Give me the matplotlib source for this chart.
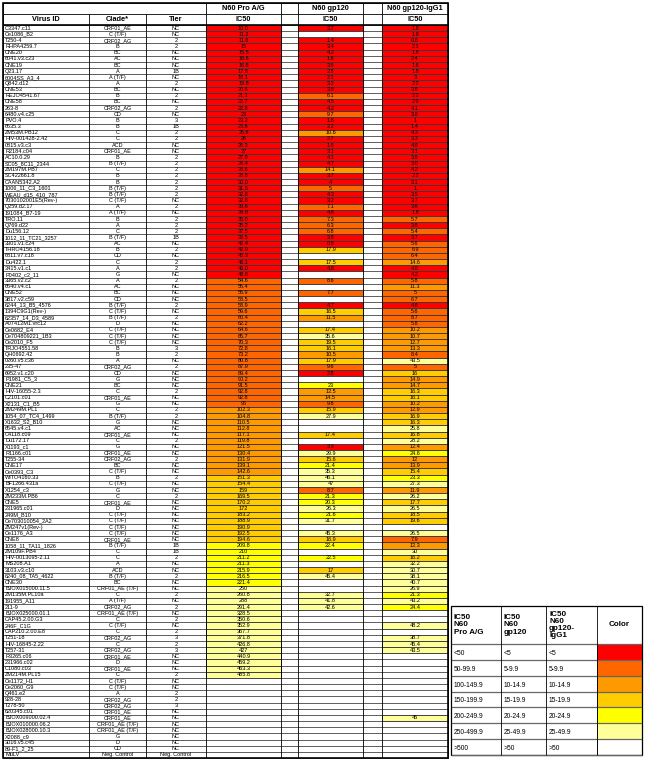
import matplotlib
matplotlib.use("Agg")
import matplotlib.pyplot as plt
from matplotlib.patches import Rectangle
import numpy as np

plt.rcParams["font.family"] = ["Liberation Sans", "DejaVu Sans"]

virus_ids = [
    "C3347.c11", "Ce1086_B2", "T250-4", "RHPA4259.7", "CNE20", "6041.v3.c23", "CNE19", "Q23.17", "6004SS_A3_4", "Q842.d12",
    "CNE53", "REJO4541.67", "CNE58", "263-8", "6480.v4.c25", "PVO.4", "6535.3", "ZM53M.PB12", "HIV-001428-2.42", "0815.v3.c3",
    "R2184.c04", "AC10.0.29", "SC05_8C11_2344", "ZM197M.PB7", "SC422661.8", "CAAN5342.A2", "1006_11_C3_1601", "WEAU_d15_410_787", "7030102001E5(Rev-)", "Q259.d2.17",
    "191084_B7-19", "TRO.11", "Q769.d22", "Du156.12", "1012_11_TC21_3257", "3301.v1.c24", "THRO4156.18", "6811.v7.c18", "Du422.1", "3415.v1.c1",
    "P0402_c2_11", "3365.v2.c2", "6540.v4.c1", "CNE52", "3817.v2.c59", "6244_13_B5_4576", "1394C9G1(Rev-)", "62357_14_D3_4589", "A07412M1.vrc12", "Ce0682_E4",
    "Ce704809221_1B3", "Ce2010_F5", "TRJO4551.58", "QH0692.42", "0260.v5.c36", "235-47", "6952.v1.c20", "P1981_C5_3", "CNE21", "HIV-16055-2.3",
    "C2101.c01", "X2131_C1_B5", "ZM249M.PL1", "1054_07_TC4_1499", "X1632_S2_B10", "6545.v4.c1", "C4118.c09", "Du172.17", "X1193_c1", "R1166.c01",
    "T255-34", "CNE17", "Ce0393_C3", "WITO4160.33", "BF1266.431a", "X1254_c3", "ZM233M.PB6", "CNE5", "231965.c01", "249M_B10",
    "Ce703010054_2A2", "ZM247v1(Rev-)", "Ce1176_A3", "CNE8", "1058_11_TA11_1826", "ZM109F.PB4", "HIV-0013095-2.11", "MS208.A1", "3103.v3.c10", "6240_08_TA5_4622",
    "CNE30", "BJOX015000.11.5", "ZM135M.PL10a", "191955_A11", "211-9", "BJOX025000.01.1", "CAP45.2.00.G3", "246F_C1G", "CAP210.2.00.E8", "T251-18",
    "HIV-16845-2.22", "T257-31", "R3265.c06", "231966.c02", "C1080.c03", "ZM214M.PL15", "Ce1172_H1", "Ce2060_G9", "Q461.e2", "928-28",
    "T278-50", "620345.c01", "BJOX009000.02.4", "BJOX010000.06.2", "BJOX028000.10.3", "X2088_c9", "3016.v5.c45", "89-F1_2_25", "MuLV",
]

clades = [
    "CRF01_AE", "C (T/F)", "CRF02_AG", "B", "BC", "AC", "BC", "A", "A (T/F)", "A",
    "BC", "B", "BC", "CRF02_AG", "CD", "B", "B", "C", "C", "ACD",
    "CRF01_AE", "B", "B (T/F)", "C", "B", "B", "B (T/F)", "B (T/F)", "C (T/F)", "A",
    "A (T/F)", "B", "A", "C", "B (T/F)", "AC", "B", "CD", "C", "A",
    "G", "A", "AC", "BC", "CD", "B (T/F)", "C (T/F)", "B (T/F)", "D", "C (T/F)",
    "C (T/F)", "C (T/F)", "B", "B", "A", "CRF02_AG", "CD", "G", "BC", "C",
    "CRF01_AE", "G", "C", "B (T/F)", "G", "AC", "CRF01_AE", "C", "G", "CRF01_AE",
    "CRF02_AG", "BC", "C (T/F)", "B", "C (T/F)", "G", "C", "CRF01_AE", "D", "C (T/F)",
    "C (T/F)", "C (T/F)", "C (T/F)", "CRF01_AE", "B (T/F)", "C", "C", "A", "ACD", "B (T/F)",
    "BC", "CRF01_AE (T/F)", "C", "A (T/F)", "CRF02_AG", "CRF01_AE (T/F)", "C", "C (T/F)", "C", "CRF02_AG",
    "C", "CRF02_AG", "CRF01_AE", "D", "CRF01_AE", "C", "C (T/F)", "C (T/F)", "A", "CRF02_AG",
    "CRF02_AG", "CRF01_AE", "CRF01_AE", "CRF01_AE (T/F)", "CRF01_AE (T/F)", "G", "D", "CD", "Neg. Control",
]

tiers = [
    "NC", "NC", "2", "2", "NC", "NC", "NC", "1B", "NC", "2",
    "NC", "2", "NC", "2", "NC", "3", "1B", "2", "2", "NC",
    "NC", "2", "2", "2", "2", "2", "2", "2", "NC", "2",
    "NC", "2", "2", "2", "1B", "NC", "2", "NC", "2", "2",
    "NC", "2", "NC", "NC", "NC", "2", "NC", "2", "NC", "NC",
    "NC", "NC", "3", "2", "NC", "2", "NC", "NC", "NC", "2",
    "NC", "NC", "2", "2", "NC", "NC", "NC", "2", "NC", "NC",
    "2", "NC", "NC", "2", "NC", "NC", "2", "NC", "NC", "NC",
    "NC", "NC", "NC", "NC", "1B", "1B", "2", "NC", "NC", "2",
    "NC", "NC", "2", "NC", "2", "NC", "2", "NC", "2", "3",
    "2", "3", "NC", "NC", "NC", "2", "NC", "NC", "2", "2",
    "3", "NC", "NC", "NC", "NC", "NC", "NC", "NC", "Neg. Control",
]

# IC50 values as printed in the table ("" = empty cell)
proag_ic50 = [
    "10.0", "11.2", "11.6", "15", "15.5", "16.6", "16.6", "17.8", "18.1", "19.8",
    "20.6", "21.1", "22.7", "22.8", "23", "23.2", "23.6", "25.6", "26", "26.3",
    "27", "27.9", "28.4", "28.6", "28.8", "30.0", "31.5", "32.8", "32.8", "33.6",
    "34.8", "35.0", "35.2", "37.5", "39.5", "42.4", "42.9", "45.3", "46.1", "46.0",
    "48.8", "54.6", "55.4", "56.9", "58.5", "58.9", "59.6", "60.4", "62.2", "64.6",
    "65.7", "70.3", "72.8", "73.2", "80.8", "87.9", "89.4", "90.2", "91.5", "92.8",
    "92.8", "95", "102.3", "104.8", "110.5", "112.8", "117.1", "119.8", "121.5", "130.4",
    "131.9", "139.1", "142.6", "151.3", "154.4", "159", "169.5", "170.2", "172", "183.2",
    "188.9", "190.9", "192.5", "194.6", "209.8", "210", "211.2", "211.3", "215.9", "216.5",
    "221.4", "250", "260.8", "288", "291.4", "328.5", "350.6", "352.9", "367.7", "371.8",
    "426.8", "427", "440.9", "459.2", "463.3", "485.8", "", "", "", "",
    "", "", "", "", "", "", "", "", "",
]

gp120_ic50 = [
    "3.7", "", "1.4", "3.4", "4.2", "1.6", "3.6", "2.8", "2.1", "3.2",
    "3.8", "6.1", "4.5", "4.2", "9.7", "1.8", "2.2", "10.6", "2.7", "1.6",
    "3.1", "4.1", "4.7", "14.1", "3.7", "4", "5", "4.3", "3.2", "7.1",
    "4.8", "7.3", "6.3", "6.8", "3.8", "0.8", "17.9", "", "17.5", "4.8",
    "", "8.6", "", "7.7", "", "4.7", "16.5", "11.5", "", "17.4",
    "35.6", "19.5", "16.1", "10.5", "17.9", "9.6", "2.8", "", "23", "12.5",
    "14.5", "9.8", "15.9", "27.9", "", "", "17.4", "", "3.3", "29.9",
    "15.6", "21.4", "35.3", "46.1", "47", "8.7", "21.3", "20.3", "26.3", "21.6",
    "31.7", "", "45.3", "16.9", "22.4", "", "22.5", "", "17", "45.4",
    "", "", "32.7", "41.8", "42.6", "", "", "", "", "",
    "", "", "", "", "", "", "", "", "", "",
    "", "", "", "", "", "", "", "", "",
]

igg1_ic50 = [
    "1.8", "1.8", "0.8", "2.1", "1.6", "2.4", "1.6", "1.8", "3", "2.2",
    "3.6", "2.2", "2.9", "4.1", "3.8", "1", "1.4", "4.3", "3.3", "4.6",
    "3.1", "3.6", "3.0", "4.2", "2.2", "3.1", "1", "3.5", "3.7", "3.6",
    "1.8", "5.7", "3.6", "5.4", "3.7", "5.6", "6.9", "6.4", "14.6", "4.8",
    "4.2", "5.8", "11.3", "5", "6.7", "4.6", "5.6", "8.7", "5.8", "10.2",
    "10.7", "12.7", "13.3", "8.4", "43.5", "5", "16", "14.9", "14.7", "16.3",
    "16.1", "10.2", "12.9", "16.9", "16.3", "25.8", "16.8", "28.2", "12.4", "24.6",
    "12", "13.9", "15.4", "23.3", "27.3", "11.9", "26.2", "17.7", "26.5", "18.5",
    "19.6", "", "26.5", "7.9", "12.3", "30", "16.2", "32.2", "30.7", "38.1",
    "40.7", "26.9", "21.3", "43.2", "24.4", "", "", "48.2", "", "38.7",
    "45.4", "43.5", "", "", "", "", "", "", "", "",
    "", "", "45", "", "", "", "", "", "",
]

proag_bins = [50, 100, 150, 200, 250, 500]
gp120_bins = [5, 10, 15, 20, 25, 50]
bin_colors = ["#FF0000", "#FF6600", "#FF9900", "#FFCC00", "#FFFF00", "#FFFF99", "#FFFFFF"]

legend_proag = ["<50", "50-99.9", "100-149.9", "150-199.9", "200-249.9", "250-499.9", ">500"]
legend_gp120 = ["<5", "5-9.9", "10-14.9", "15-19.9", "20-24.9", "25-49.9", ">50"]
legend_igg1 = ["<5", "5-9.9", "10-14.9", "15-19.9", "20-24.9", "25-49.9", ">50"]

W, H = 645, 761
fig = plt.figure(figsize=(W / 100, H / 100), dpi=100)
ax = fig.add_axes([0, 0, 1, 1])
ax.set_xlim(0, W)
ax.set_ylim(H, 0)
ax.axis("off")

# table layout (pixels)
col_edges = [3, 89, 146, 206, 281, 298, 363, 382, 448]
top, head_mid, head_bot, bottom = 3, 14, 25, 758
n = len(virus_ids)
row_h = (bottom - head_bot) / n
line_c = "#444444"

data_fs = 4.0
head_fs = 5.3

for i in range(n):
    y = head_bot + i * row_h
    yc = y + row_h / 2
    ax.text(col_edges[0] + 2, yc, virus_ids[i], fontsize=data_fs, ha="left", va="center")
    ax.text((col_edges[1] + col_edges[2]) / 2, yc, clades[i], fontsize=data_fs, ha="center", va="center")
    ax.text((col_edges[2] + col_edges[3]) / 2, yc, tiers[i], fontsize=data_fs, ha="center", va="center")
    for ci, values, bins in [(3, proag_ic50, proag_bins), (5, gp120_ic50, gp120_bins), (7, igg1_ic50, gp120_bins)]:
        v = values[i]
        if not v:
            continue
        x0, x1 = col_edges[ci], col_edges[ci + 1]
        color = bin_colors[int(np.digitize(float(v), bins))]
        ax.add_patch(Rectangle((x0, y), x1 - x0, row_h, facecolor=color, edgecolor="black", lw=0.5, zorder=1))
        ax.text((x0 + x1) / 2, yc, v, fontsize=data_fs, ha="center", va="center", zorder=3)

# grid lines
for i in range(n + 1):
    ax.hlines(head_bot + i * row_h, col_edges[0], col_edges[-1], color=line_c, lw=0.6, zorder=2)
ax.vlines(col_edges, head_mid, bottom, color="black", lw=0.6, zorder=2)
ax.vlines([col_edges[0]] + col_edges[3:], top, head_mid, color="black", lw=0.6, zorder=2)
ax.hlines([top, head_mid], col_edges[0], col_edges[-1], color="black", lw=0.6)
ax.hlines(head_bot, col_edges[0], col_edges[-1], color="black", lw=1.2, zorder=2)
ax.add_patch(Rectangle((col_edges[0], top), col_edges[-1] - col_edges[0], bottom - top,
                       fill=False, edgecolor="black", lw=1.2, zorder=4))

# header text
for ci, label in [(3, "N60 Pro A/G"), (5, "N60 gp120"), (7, "N60 gp120-IgG1")]:
    ax.text((col_edges[ci] + col_edges[ci + 1]) / 2, (top + head_mid) / 2, label,
            fontsize=head_fs, fontweight="bold", ha="center", va="center")
    ax.text((col_edges[ci] + col_edges[ci + 1]) / 2, (head_mid + head_bot) / 2, "IC50",
            fontsize=head_fs, fontweight="bold", ha="center", va="center")
for ci, label in [(0, "Virus ID"), (1, "Clade*"), (2, "Tier")]:
    ax.text((col_edges[ci] + col_edges[ci + 1]) / 2, (head_mid + head_bot) / 2, label,
            fontsize=head_fs, fontweight="bold", ha="center", va="center")

# legend table
lx = [451, 501, 546, 597, 642]
ly_top, ly_head, ly_bot = 606, 644, 755
lrow_h = (ly_bot - ly_head) / len(legend_proag)
leg_heads = ["IC50\nN60\nPro A/G", "IC50\nN60\ngp120", "IC50\nN60\ngp120-\nIgG1"]
for j, label in enumerate(leg_heads):
    ax.text(lx[j] + 3, (ly_top + ly_head) / 2, label, fontsize=5.8, fontweight="bold",
            ha="left", va="center", linespacing=1.05)
ax.text((lx[3] + lx[4]) / 2, (ly_top + ly_head) / 2, "Color", fontsize=5.8, fontweight="bold",
        ha="center", va="center")
for k in range(len(legend_proag)):
    y = ly_head + k * lrow_h
    yc = y + lrow_h / 2 + 1.5
    for j, label in enumerate([legend_proag[k], legend_gp120[k], legend_igg1[k]]):
        ax.text(lx[j] + 3, yc, label, fontsize=4.8, ha="left", va="center")
    ax.add_patch(Rectangle((lx[3], y), lx[4] - lx[3], lrow_h, facecolor=bin_colors[k],
                           edgecolor="black", lw=0.5))
for k in range(len(legend_proag) + 1):
    ax.hlines(ly_head + k * lrow_h, lx[0], lx[-1], color="#666666", lw=0.9)
ax.vlines(lx, ly_top, ly_bot, color="black", lw=0.6)
ax.add_patch(Rectangle((lx[0], ly_top), lx[-1] - lx[0], ly_bot - ly_top,
                       fill=False, edgecolor="black", lw=0.9))

fig.savefig("out.png", dpi=100)
